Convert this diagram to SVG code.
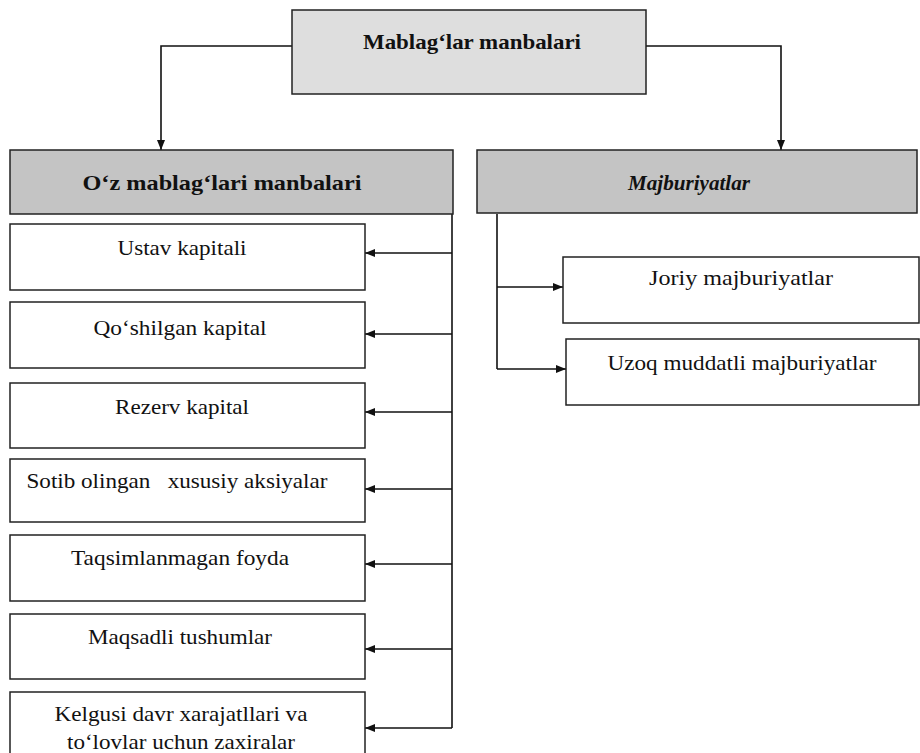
<svg xmlns="http://www.w3.org/2000/svg" width="920" height="753" viewBox="0 0 920 753" font-family="'Liberation Serif', 'DejaVu Serif', serif">
<style>
.box{fill:#fff;stroke:#222;stroke-width:1.5}
.top{fill:#dedede;stroke:#222;stroke-width:1.5}
.hdr{fill:#c4c4c4;stroke:#222;stroke-width:1.5}
text{font-family:'Liberation Serif','DejaVu Serif',serif;font-size:21px;fill:#111;text-anchor:middle}
.b{font-weight:bold}
.i{font-style:italic}
.c{fill:none;stroke:#111;stroke-width:1.6}
</style>
<defs>
<marker id="ah" viewBox="0 0 10 10" refX="10" refY="5" markerWidth="10" markerHeight="10" markerUnits="userSpaceOnUse" orient="auto">
<path d="M0,1 L10,5 L0,9 Z" fill="#111"/>
</marker>
</defs>
<g id="connectors">
<path class="c" d="M292,46 H161 V150" marker-end="url(#ah)"/>
<path class="c" d="M646,46 H781 V150" marker-end="url(#ah)"/>
<path class="c" d="M452,214 V728"/>
<path class="c" d="M452,253 H365" marker-end="url(#ah)"/>
<path class="c" d="M452,334 H365" marker-end="url(#ah)"/>
<path class="c" d="M452,412 H365" marker-end="url(#ah)"/>
<path class="c" d="M452,489 H365" marker-end="url(#ah)"/>
<path class="c" d="M452,564 H365" marker-end="url(#ah)"/>
<path class="c" d="M452,649 H365" marker-end="url(#ah)"/>
<path class="c" d="M452,728 H365" marker-end="url(#ah)"/>
<path class="c" d="M497,214 V369"/>
<path class="c" d="M497,287 H563" marker-end="url(#ah)"/>
<path class="c" d="M497,369 H566" marker-end="url(#ah)"/>
</g>
<g id="root">
<rect class="top" x="292" y="10" width="354" height="84"/>
<text class="b" x="472" y="49" textLength="218" lengthAdjust="spacingAndGlyphs">Mablag‘lar manbalari</text>
</g>
<g id="own">
<rect class="hdr" x="10" y="150" width="443" height="64"/>
<text class="b" x="222" y="190" textLength="279" lengthAdjust="spacingAndGlyphs">O‘z mablag‘lari manbalari</text>
</g>
<g id="liab">
<rect class="hdr" x="477" y="150" width="440" height="63"/>
<text class="b i" x="689" y="190" textLength="122" lengthAdjust="spacingAndGlyphs">Majburiyatlar</text>
</g>
<g id="n1">
<rect class="box" x="10" y="224" width="355" height="66"/>
<text x="182" y="255" textLength="129" lengthAdjust="spacingAndGlyphs">Ustav kapitali</text>
</g>
<g id="n2">
<rect class="box" x="10" y="302" width="355" height="66"/>
<text x="180" y="335" textLength="173" lengthAdjust="spacingAndGlyphs">Qo‘shilgan kapital</text>
</g>
<g id="n3">
<rect class="box" x="10" y="383" width="355" height="65"/>
<text x="182" y="414" textLength="134" lengthAdjust="spacingAndGlyphs">Rezerv kapital</text>
</g>
<g id="n4">
<rect class="box" x="10" y="459" width="355" height="63"/>
<text x="177" y="488" xml:space="preserve" textLength="301" lengthAdjust="spacingAndGlyphs">Sotib olingan   xususiy aksiyalar</text>
</g>
<g id="n5">
<rect class="box" x="10" y="535" width="355" height="66"/>
<text x="180" y="565" textLength="218" lengthAdjust="spacingAndGlyphs">Taqsimlanmagan foyda</text>
</g>
<g id="n6">
<rect class="box" x="10" y="614" width="355" height="65"/>
<text x="180" y="644" textLength="184" lengthAdjust="spacingAndGlyphs">Maqsadli tushumlar</text>
</g>
<g id="n7">
<rect class="box" x="10" y="692" width="355" height="70"/>
<text x="181" y="721" textLength="253" lengthAdjust="spacingAndGlyphs">Kelgusi davr xarajatllari va</text>
<text x="181" y="749" textLength="228" lengthAdjust="spacingAndGlyphs">to‘lovlar uchun zaxiralar</text>
</g>
<g id="r1">
<rect class="box" x="563" y="257" width="356" height="66"/>
<text x="741" y="285" textLength="184" lengthAdjust="spacingAndGlyphs">Joriy majburiyatlar</text>
</g>
<g id="r2">
<rect class="box" x="566" y="339" width="353" height="66"/>
<text x="742" y="370" textLength="269" lengthAdjust="spacingAndGlyphs">Uzoq muddatli majburiyatlar</text>
</g>
</svg>
